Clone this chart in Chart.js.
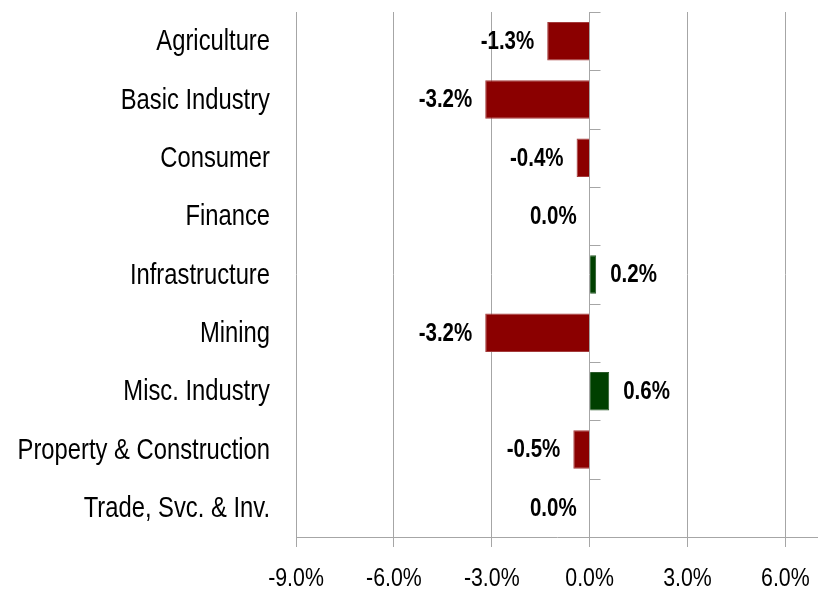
<!DOCTYPE html>
<html>
<head>
<title>Sector returns</title>
<script src="https://cdn.jsdelivr.net/npm/chart.js"></script>
<style>
html, body { margin: 0; padding: 0; background: #fff; }
#wrap { width: 818px; height: 589px; }
</style>
</head>
<body>
<div id="wrap"><canvas id="myChart"></canvas></div>
<script>
var sectors = ["Agriculture", "Basic Industry", "Consumer", "Finance", "Infrastructure",
  "Mining", "Misc. Industry", "Property & Construction", "Trade, Svc. & Inv."];
var returns = [-1.3, -3.2, -0.4, 0.0, 0.2, -3.2, 0.6, -0.5, 0.0];
var axisTicks = [-9, -6, -3, 0, 3, 6];

var FONT = "'Liberation Sans', Arial, sans-serif";
var NARROW = 0.82; // squeeze Arial-like glyphs to look like Arial Narrow

function narrowText(ctx, txt, x, y, align) {
  ctx.save();
  ctx.translate(x, y);
  ctx.scale(NARROW, 1);
  ctx.textAlign = align;
  ctx.fillText(txt, 0, 0);
  ctx.restore();
}

// all texts drawn narrow, positioned from the chart scales
var narrowLabels = {
  id: 'narrowLabels',
  afterDraw: function(chart) {
    var ctx = chart.ctx;
    var xs = chart.scales.x, ys = chart.scales.y;
    var meta = chart.getDatasetMeta(0);
    ctx.save();
    ctx.fillStyle = "#000";

    // category names
    ctx.font = "29px " + FONT;
    ctx.textBaseline = "middle";
    sectors.forEach(function(s, i) {
      narrowText(ctx, s, 270, ys.getPixelForValue(i) + 1, "right");
    });

    // x tick labels
    ctx.font = "26px " + FONT;
    ctx.textBaseline = "alphabetic";
    axisTicks.forEach(function(v) {
      narrowText(ctx, v.toFixed(1) + "%", xs.getPixelForValue(v), chart.chartArea.bottom + 49, "center");
    });

    // value labels, zero goes on the left like negatives
    ctx.font = "bold 25px " + FONT;
    ctx.textBaseline = "middle";
    meta.data.forEach(function(bar, i) {
      var v = returns[i];
      var txt = v.toFixed(1) + "%";
      var end = xs.getPixelForValue(v);
      if (v > 0) narrowText(ctx, txt, end + 14, bar.y + 1, "left");
      else narrowText(ctx, txt, end - 13, bar.y + 1, "right");
    });

    // small category tick marks on the zero line
    var x0 = Math.round(xs.getPixelForValue(0)) + 0.5;
    ctx.strokeStyle = "#a6a6a6";
    ctx.lineWidth = 1;
    for (var i = 0; i <= sectors.length; i++) {
      var y = Math.round(ys.getPixelForValue(i - 0.5)) + 0.5;
      ctx.beginPath();
      ctx.moveTo(x0 - 1, y);
      ctx.lineTo(x0 + 10, y);
      ctx.stroke();
    }
    ctx.restore();
  }
};

new Chart(document.getElementById('myChart'), {
  type: 'bar',
  data: {
    labels: sectors,
    datasets: [{
      data: returns,
      backgroundColor: returns.map(function(v) { return v < 0 ? '#8b0000' : '#004000'; }),
      borderColor: returns.map(function(v) { return v < 0 ? '#a33a3a' : '#2a5a2a'; }),
      borderWidth: 1,
      barPercentage: 0.66,
      categoryPercentage: 1
    }]
  },
  options: {
    indexAxis: 'y',
    responsive: true,
    maintainAspectRatio: false,
    animation: false,
    layout: { padding: { top: 12, right: 0, left: 0, bottom: 0 } },
    plugins: { legend: { display: false }, tooltip: { enabled: false } },
    scales: {
      x: {
        min: -9,
        max: 7,
        afterBuildTicks: function(s) {
          s.ticks = axisTicks.map(function(v) { return { value: v }; });
        },
        afterFit: function(s) { s.height = 52; s.paddingLeft = 0; s.paddingRight = 0; },
        grid: { color: '#a6a6a6', lineWidth: 1, tickLength: 10, drawTicks: true },
        border: { display: true, color: '#a6a6a6' },
        ticks: { color: 'rgba(0,0,0,0)', font: { size: 24 }, maxRotation: 0 }
      },
      y: {
        afterFit: function(s) { s.width = 296; s.paddingTop = 0; s.paddingBottom = 0; },
        grid: { display: false, drawTicks: false },
        border: { display: false },
        ticks: { color: 'rgba(0,0,0,0)', font: { size: 24 }, padding: 0 }
      }
    }
  },
  plugins: [narrowLabels]
});
</script>
</body>
</html>
